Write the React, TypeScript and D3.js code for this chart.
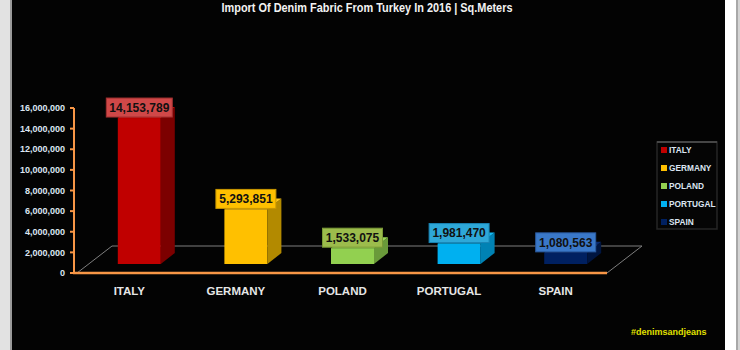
import React from "react";
import * as d3 from "d3";

const categories = ["ITALY", "GERMANY", "POLAND", "PORTUGAL", "SPAIN"];
const values = [14153789, 5293851, 1533075, 1981470, 1080563];
const yTicks = [0, 2000000, 4000000, 6000000, 8000000, 10000000, 12000000, 14000000, 16000000];
const frontColors = ["#c00000", "#ffc000", "#92d050", "#00b0f0", "#002060"];
const sideColors = ["#7c0000", "#b38a00", "#6a9a3a", "#0082b4", "#001540"];
const topColors = ["#cc1010", "#ffc81a", "#9ad858", "#14bcf6", "#0a2a70"];
const labelFills = ["#d04848", "#ffc000", "#9cbc4c", "#2ea8d8", "#3a78c8"];
const labelStrokes = ["#a03030", "#c79600", "#7a9a36", "#1a84b4", "#2a5aa0"];
const title = "Import Of Denim Fabric From Turkey In 2016 | Sq.Meters";
const watermark = "#denimsandjeans";

const W = 740;
const H = 350;
const FONT = "'Liberation Sans', Arial, sans-serif";

export default function App() {
  const x0 = 74, x1 = 607;
  const floorDx = 35, floorDy = 27;
  const x = d3.scaleBand<string>().domain(categories).range([x0, x1]).paddingInner(0).paddingOuter(0);
  const y = d3.scaleLinear().domain([0, 16000000]).range([273, 108]);
  const fmt = d3.format(",");
  const barW = 43;
  const frontShiftX = 12, frontShiftY = 9;
  const depthX = 14, depthY = 11;

  return (
    <svg width={W} height={H} style={{ position: "absolute", left: 0, top: 0 }} xmlns="http://www.w3.org/2000/svg">
      <rect x={0} y={0} width={W} height={H} fill="#ffffff" />
      <rect x={0} y={0} width={10} height={H} fill="#e2e2e2" />
      <rect x={10} y={0} width={2} height={H} fill="#9a9a9a" />
      <rect x={12} y={0} width={713} height={H} fill="#030303" />
      <rect x={736} y={0} width={2} height={H} fill="#a8a8a8" />
      <rect x={738} y={0} width={2} height={H} fill="#d4d4d4" />

      <text x={367} y={12} textAnchor="middle" fill="#f2f2f2" fontFamily={FONT} fontWeight="bold" fontSize={13.5} textLength={291} lengthAdjust="spacingAndGlyphs">{title}</text>

      {/* floor */}
      <g stroke="#7f7f7f" strokeWidth={1} fill="none">
        <line x1={x0 + 3} y1={273} x2={x0 + 3 + floorDx} y2={273 - floorDy} />
        <line x1={x0 + 3 + floorDx} y1={273 - floorDy} x2={x1 + floorDx} y2={273 - floorDy} />
        <line x1={x1} y1={273} x2={x1 + floorDx} y2={273 - floorDy} />
      </g>

      {/* bars */}
      {categories.map((c, i) => {
        const cx = (x(c) as number) + x.bandwidth() / 2 + frontShiftX;
        const left = cx - barW / 2;
        const right = cx + barW / 2;
        const bottom = y(0) - frontShiftY;
        const top = y(values[i]) - frontShiftY;
        const side = `M${right},${bottom} L${right + depthX},${bottom - depthY} L${right + depthX},${top - depthY} L${right},${top} Z`;
        const topFace = `M${left},${top} L${left + depthX},${top - depthY} L${right + depthX},${top - depthY} L${right},${top} Z`;
        return (
          <g key={c}>
            <rect x={left} y={top} width={barW} height={bottom - top} fill={frontColors[i]} />
            <path d={side} fill={sideColors[i]} />
            <path d={topFace} fill={topColors[i]} />
          </g>
        );
      })}

      {/* axis */}
      <line x1={x0 - 1} y1={273} x2={x1} y2={273} stroke="#f79646" strokeWidth={2.5} />
      <line x1={x0} y1={y(16000000)} x2={x0} y2={274} stroke="#f79646" strokeWidth={2} />
      {yTicks.map((t) => (
        <g key={t}>
          <line x1={x0 - 4} y1={y(t)} x2={x0} y2={y(t)} stroke="#f79646" strokeWidth={2} />
          <text x={65} y={y(t) + 3.2} textAnchor="end" fill="#dce6f2" fontFamily={FONT} fontWeight="bold" fontSize={9}>{fmt(t)}</text>
        </g>
      ))}

      {/* data labels */}
      {categories.map((c, i) => {
        const cx = (x(c) as number) + x.bandwidth() / 2 + frontShiftX;
        const top = y(values[i]) - frontShiftY;
        const bw = values[i] >= 10000000 ? 66 : 60;
        const bh = 19;
        return (
          <g key={c + "lbl"}>
            <rect x={cx - bw / 2} y={top - 1 - bh} width={bw} height={bh} fill={labelFills[i]} stroke={labelStrokes[i]} strokeWidth={1} />
            <text x={cx} y={top - 1 - bh / 2 + 4.2} textAnchor="middle" fill="#111111" fontFamily={FONT} fontWeight="bold" fontSize={12}>{fmt(values[i])}</text>
          </g>
        );
      })}

      {/* category labels */}
      {categories.map((c) => (
        <text key={c + "cat"} x={(x(c) as number) + x.bandwidth() / 2 + 2} y={295} textAnchor="middle" fill="#e6e6e6" fontFamily={FONT} fontWeight="bold" fontSize={11.5}>{c}</text>
      ))}

      {/* legend */}
      <rect x={657} y={142} width={60} height={87} fill="#050505" stroke="#262626" strokeWidth={1.5} />
      <line x1={657} y1={142} x2={717} y2={142} stroke="#555" strokeWidth={1.5} />
      {categories.map((c, i) => {
        const ly = 150 + i * 18;
        return (
          <g key={c + "leg"}>
            <rect x={661} y={ly - 3} width={6} height={6} fill={frontColors[i]} />
            <text x={669} y={ly + 3} fill="#dce6f2" fontFamily={FONT} fontWeight="bold" fontSize={8.3}>{c}</text>
          </g>
        );
      })}

      <text x={631} y={335} fill="#e0e000" fontFamily={FONT} fontWeight="bold" fontSize={9}>{watermark}</text>
    </svg>
  );
}
